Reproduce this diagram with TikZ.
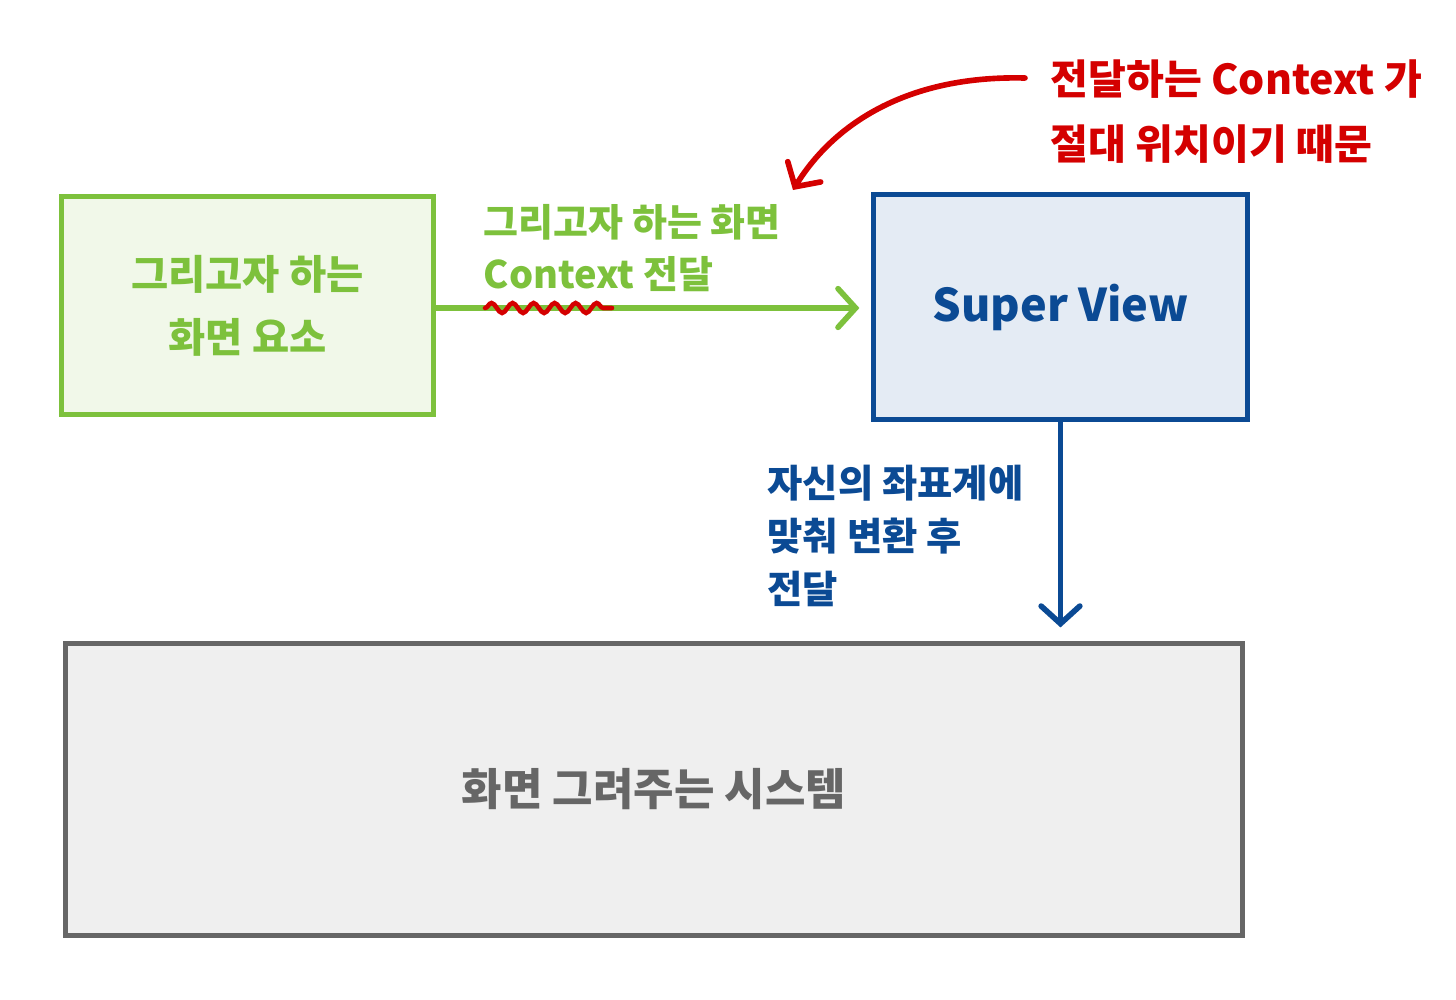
\documentclass[tikz,border=0pt]{standalone}
\usepackage{fontspec}
\setmainfont{Noto Sans CJK KR}
\usetikzlibrary{arrows.meta,decorations.pathmorphing}
\definecolor{mygreen}{HTML}{7DC13C}
\definecolor{mygreenfill}{HTML}{F1F8E9}
\definecolor{myblue}{HTML}{0B4A94}
\definecolor{mybluefill}{HTML}{E4EBF4}
\definecolor{mygray}{HTML}{666666}
\definecolor{mygrayfill}{HTML}{EFEFEF}
\definecolor{myred}{HTML}{D40000}

\begin{document}
\begin{tikzpicture}[x=0.01cm,y=-0.01cm]
\useasboundingbox (0,0) rectangle (1456,1000);
\tikzset{BoxStyle/.style ={draw, line width=1.4pt, inner sep=0, align=center}}
\tikzset{NoteStyle/.style ={inner sep=0, anchor=west, align=left}}
\tikzset{EdgeStyle/.style ={line width=1.6pt, line cap=round, -{Straight Barb[length=5pt,width=11pt,line cap=round]}}}
% boxes
\node[BoxStyle, draw=mygreen, fill=mygreenfill, text=mygreen, minimum width=3.71cm, minimum height=2.17cm,
      font=\fontsize{11.5}{18}\selectfont\bfseries] (elem) at (247.5,305.5) {그리고자 하는\\화면 요소};
\node[BoxStyle, draw=myblue, fill=mybluefill, text=myblue, minimum width=3.73cm, minimum height=2.24cm,
      font=\fontsize{12.8}{17}\selectfont\bfseries] (super) at (1060.5,307) {Super View};
\node[BoxStyle, draw=mygray, fill=mygrayfill, text=mygray, minimum width=11.76cm, minimum height=2.91cm,
      font=\fontsize{12.5}{15}\selectfont\bfseries] (system) at (654,789.5) {화면 그려주는 시스템};
% labels
\node[NoteStyle, text=mygreen, font=\fontsize{10.8}{15}\selectfont\bfseries] (ctxlabel) at (483,248) {그리고자 하는 화면\\Context 전달};
\node[NoteStyle, text=myblue, font=\fontsize{10.9}{15}\selectfont\bfseries] (convlabel) at (767,536) {자신의 좌표계에\\맞춰 변환 후\\전달};
\node[NoteStyle, text=myred, font=\fontsize{11.7}{18.5}\selectfont\bfseries] (why) at (1050,112) {전달하는 Context 가\\절대 위치이기 때문};
% connectors
\draw[EdgeStyle, mygreen, shorten >=0.12cm] ([yshift=-0.025cm]elem.east) -- ([yshift=-0.025cm]elem.east -| super.west);
\draw[EdgeStyle, myblue] (super.south) -- ([yshift=0.14cm]super.south |- system.north);
\coordinate (whystart) at (1025,78);
\coordinate (whyend) at (793,190);
\draw[EdgeStyle, myred] (whystart) .. controls (900,75) and (830,130) .. (whyend);
% wavy underline
\coordinate (wavestart) at (485,308);
\coordinate (waveend) at (612,308);
\draw[myred, line width=1.3pt, line cap=round, decorate, decoration={snake, amplitude=0.05cm, segment length=0.21cm}] (wavestart) -- (waveend);
\end{tikzpicture}
\end{document}
